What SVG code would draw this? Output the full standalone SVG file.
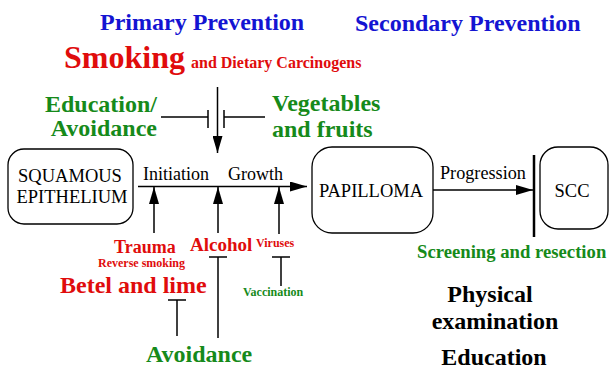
<svg xmlns="http://www.w3.org/2000/svg" width="612" height="369" viewBox="0 0 612 369">
<style>
.b{font-weight:bold}
.blue{fill:#1414d2}
.red{fill:#e00c0c}
.green{fill:#168a1a}
.blk{fill:#000}
.box{fill:#fff;stroke:#000;stroke-width:1.3}
.ln{stroke:#000;stroke-width:1.5;fill:none}
.thick{stroke:#000;stroke-width:2.5;fill:none}
</style>
<defs>
<marker id="ah" markerWidth="18" markerHeight="10" refX="17" refY="5" orient="auto" markerUnits="userSpaceOnUse">
<path d="M0,0 L17,5 L0,10 Z" fill="#000"/>
</marker>
</defs>
<rect width="612" height="369" fill="#fff"/>
<g font-family="'Liberation Serif', 'DejaVu Serif', serif">
<g id="titles">
<text class="b blue" x="100" y="30" font-size="24">Primary Prevention</text>
<text class="b blue" x="355" y="31" font-size="24">Secondary Prevention</text>
<text class="b red" x="64" y="68" font-size="32">Smoking</text>
<text class="b red" x="191" y="68" font-size="16">and Dietary Carcinogens</text>
</g>
<g id="nodes">
<g id="squamous">
<rect class="box" x="8" y="149" width="125" height="75" rx="16"/>
<text x="70" y="182" font-size="18.5" text-anchor="middle">SQUAMOUS</text>
<text x="72" y="203" font-size="18.5" text-anchor="middle">EPITHELIUM</text>
</g>
<g id="papilloma">
<rect class="box" x="312" y="147" width="121" height="86" rx="20"/>
<text x="371" y="197" font-size="18.5" text-anchor="middle">PAPILLOMA</text>
</g>
<g id="scc">
<rect class="box" x="540" y="147" width="68" height="82" rx="18"/>
<text x="572" y="197" font-size="18.5" text-anchor="middle">SCC</text>
</g>
</g>
<g id="connectors">
<line class="ln" x1="138" y1="186.5" x2="307" y2="186.5" marker-end="url(#ah)"/>
<line class="ln" x1="433" y1="190" x2="533" y2="190" marker-end="url(#ah)"/>
<line class="thick" x1="534" y1="155" x2="534" y2="237"/>
<line class="ln" x1="217.5" y1="87" x2="217.5" y2="153" marker-end="url(#ah)"/>
<line class="ln" x1="161" y1="117" x2="208" y2="117"/>
<line class="ln" x1="208" y1="110" x2="208" y2="128"/>
<line class="ln" x1="224" y1="117" x2="265" y2="117"/>
<line class="ln" x1="224" y1="110" x2="224" y2="128"/>
<line class="ln" x1="154" y1="233" x2="154" y2="187" marker-end="url(#ah)"/>
<line class="ln" x1="218" y1="233" x2="218" y2="187" marker-end="url(#ah)"/>
<line class="ln" x1="279" y1="234" x2="279" y2="187" marker-end="url(#ah)"/>
<line class="ln" x1="218" y1="257" x2="218" y2="338"/>
<line class="ln" x1="209" y1="257" x2="227" y2="257"/>
<line class="ln" x1="177" y1="300" x2="177" y2="336"/>
<line class="ln" x1="168" y1="300" x2="186" y2="300"/>
<line class="ln" x1="281" y1="257" x2="281" y2="286"/>
<line class="ln" x1="272" y1="257" x2="290" y2="257"/>
</g>
<g id="labels">
<text x="143" y="180" font-size="18">Initiation</text>
<text x="228" y="180" font-size="18">Growth</text>
<text x="440" y="179" font-size="18.2">Progression</text>
<text class="b green" x="157" y="112" font-size="24" text-anchor="end">Education/</text>
<text class="b green" x="157" y="136" font-size="24" text-anchor="end">Avoidance</text>
<text class="b green" x="272" y="111" font-size="24">Vegetables</text>
<text class="b green" x="272" y="137" font-size="24">and fruits</text>
<text class="b red" x="114" y="253" font-size="18">Trauma</text>
<text class="b red" x="98" y="267" font-size="12">Reverse smoking</text>
<text class="b red" x="60" y="293" font-size="24">Betel and lime</text>
<text class="b red" x="190" y="251" font-size="19">Alcohol</text>
<text class="b red" x="256" y="247" font-size="12">Viruses</text>
<text class="b green" x="243" y="296" font-size="12">Vaccination</text>
<text class="b green" x="146" y="362" font-size="24">Avoidance</text>
<text class="b green" x="417" y="258" font-size="18.7">Screening and resection</text>
<text class="b blk" x="490" y="302" font-size="24" text-anchor="middle">Physical</text>
<text class="b blk" x="495" y="329" font-size="24" text-anchor="middle">examination</text>
<text class="b blk" x="494" y="365" font-size="24" text-anchor="middle">Education</text>
</g>
</g>
</svg>
